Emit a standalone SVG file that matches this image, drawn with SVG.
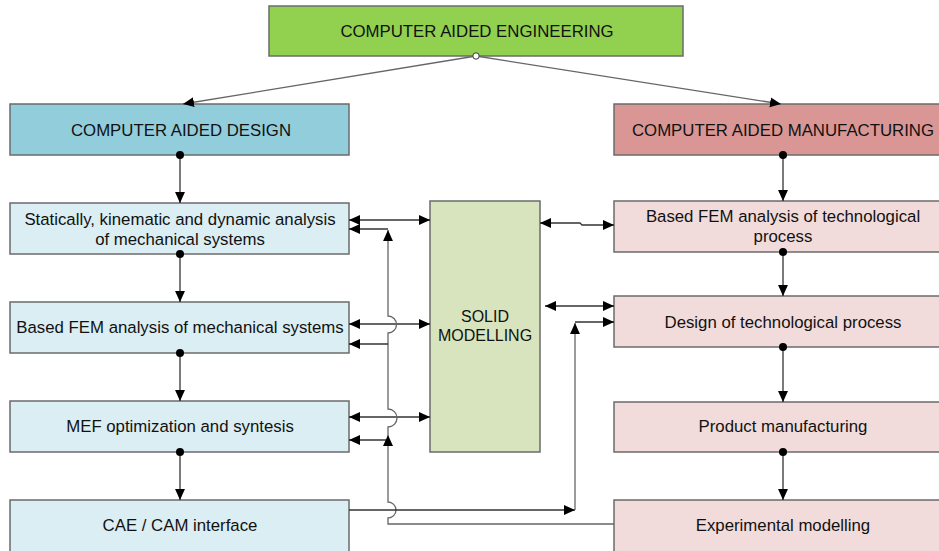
<svg xmlns="http://www.w3.org/2000/svg" width="939" height="551" viewBox="0 0 939 551">
<style>
.box{stroke:#6b6b6b;stroke-width:1.5}
.t{font-family:"Liberation Sans",Arial,sans-serif;font-size:16.8px;fill:#111;text-anchor:middle}
.s{font-size:16px}
.c{fill:none;stroke:#333;stroke-width:1.3}
.g{fill:none;stroke:#666;stroke-width:1.3}
</style>
<defs>
<marker id="a" viewBox="0 0 10 10" refX="10" refY="5" markerWidth="11" markerHeight="11" markerUnits="userSpaceOnUse" orient="auto-start-reverse">
<path d="M0,0.5 L10,5 L0,9.5 z" fill="#000"/>
</marker>
</defs>
<rect width="939" height="551" fill="#fff"/>

<g id="cae"><rect class="box" x="269" y="6" width="414" height="50" fill="#92D050"/><text class="t" x="477" y="37">COMPUTER AIDED ENGINEERING</text></g>
<g id="cad"><rect class="box" x="10" y="104" width="339" height="51" fill="#92CDDC"/><text class="t" x="181" y="136">COMPUTER AIDED DESIGN</text></g>
<g id="cam"><rect class="box" x="614" y="104" width="330" height="51" fill="#D99694"/><text class="t" x="783" y="136">COMPUTER AIDED MANUFACTURING</text></g>

<g id="l1"><rect class="box" x="10" y="203" width="339" height="51" fill="#DBEEF3"/><text class="t" x="180" y="225">Statically, kinematic and dynamic analysis</text><text class="t" x="180" y="245">of mechanical systems</text></g>
<g id="l2"><rect class="box" x="10" y="302" width="339" height="51" fill="#DBEEF3"/><text class="t" x="180" y="333">Based FEM analysis of mechanical systems</text></g>
<g id="l3"><rect class="box" x="10" y="401" width="339" height="51" fill="#DBEEF3"/><text class="t" x="180" y="432">MEF optimization and syntesis</text></g>
<g id="l4"><rect class="box" x="10" y="500" width="339" height="60" fill="#DBEEF3"/><text class="t" x="180" y="531">CAE / CAM interface</text></g>

<g id="solid"><rect class="box" x="430" y="201" width="110" height="251" fill="#D7E4BD"/><text class="t s" x="485" y="322">SOLID</text><text class="t s" x="485" y="341">MODELLING</text></g>

<g id="r1"><rect class="box" x="614" y="201" width="330" height="51" fill="#F2DCDB"/><text class="t" x="783" y="222">Based FEM analysis of technological</text><text class="t" x="783" y="242">process</text></g>
<g id="r2"><rect class="box" x="614" y="296" width="330" height="51" fill="#F2DCDB"/><text class="t" x="783" y="328">Design of technological process</text></g>
<g id="r3"><rect class="box" x="614" y="402" width="330" height="50" fill="#F2DCDB"/><text class="t" x="783" y="432">Product manufacturing</text></g>
<g id="r4"><rect class="box" x="614" y="500" width="330" height="60" fill="#F2DCDB"/><text class="t" x="783" y="531">Experimental modelling</text></g>

<g id="connectors">
<path class="g" d="M476,56 L183,104" marker-end="url(#a)"/>
<path class="g" d="M476,56 L781,104" marker-end="url(#a)"/>
<circle cx="476" cy="56" r="3.2" fill="#fff" stroke="#333" stroke-width="1"/>

<path class="c" d="M180,155 V203" marker-end="url(#a)"/>
<path class="c" d="M180,254 V302" marker-end="url(#a)"/>
<path class="c" d="M180,353 V401" marker-end="url(#a)"/>
<path class="c" d="M180,452 V500" marker-end="url(#a)"/>
<path class="c" d="M783,155 V201" marker-end="url(#a)"/>
<path class="c" d="M783,252 V296" marker-end="url(#a)"/>
<path class="c" d="M783,347 V402" marker-end="url(#a)"/>
<path class="c" d="M783,452 V500" marker-end="url(#a)"/>
<g fill="#000">
<circle cx="180" cy="155" r="4"/><circle cx="180" cy="254" r="4"/><circle cx="180" cy="353" r="4"/><circle cx="180" cy="452" r="4"/>
<circle cx="783" cy="155" r="4"/><circle cx="783" cy="252" r="4"/><circle cx="783" cy="347" r="4"/><circle cx="783" cy="452" r="4"/>
</g>

<path class="c" d="M349,220 H430" marker-start="url(#a)" marker-end="url(#a)"/>
<path class="c" d="M349,324 H430" marker-start="url(#a)" marker-end="url(#a)"/>
<path class="c" d="M349,417 H430" marker-start="url(#a)" marker-end="url(#a)"/>

<path class="g" d="M614,524 H388 V518 A8,8 0 0 0 388,502 V427 A8,8 0 0 0 388,409 V333 A8,8 0 0 0 388,316 V230" marker-end="url(#a)"/>
<path class="c" d="M388,229 H349" marker-end="url(#a)"/>
<path class="c" d="M388,344 H349" marker-end="url(#a)"/>
<path class="c" d="M388,440 H349" marker-end="url(#a)"/>
<path d="M388,435 L383,446 L393,446 z" fill="#000"/>

<path class="c" d="M349,510 H575" marker-end="url(#a)"/>
<path class="g" d="M575,510 V323" marker-end="url(#a)"/>
<path class="c" d="M575,322 H614" marker-end="url(#a)"/>

<path class="c" d="M540,223 H580 L582,225 H614" marker-start="url(#a)" marker-end="url(#a)"/>
<path class="c" d="M545,306 H614" marker-start="url(#a)" marker-end="url(#a)"/>
</g>
</svg>
